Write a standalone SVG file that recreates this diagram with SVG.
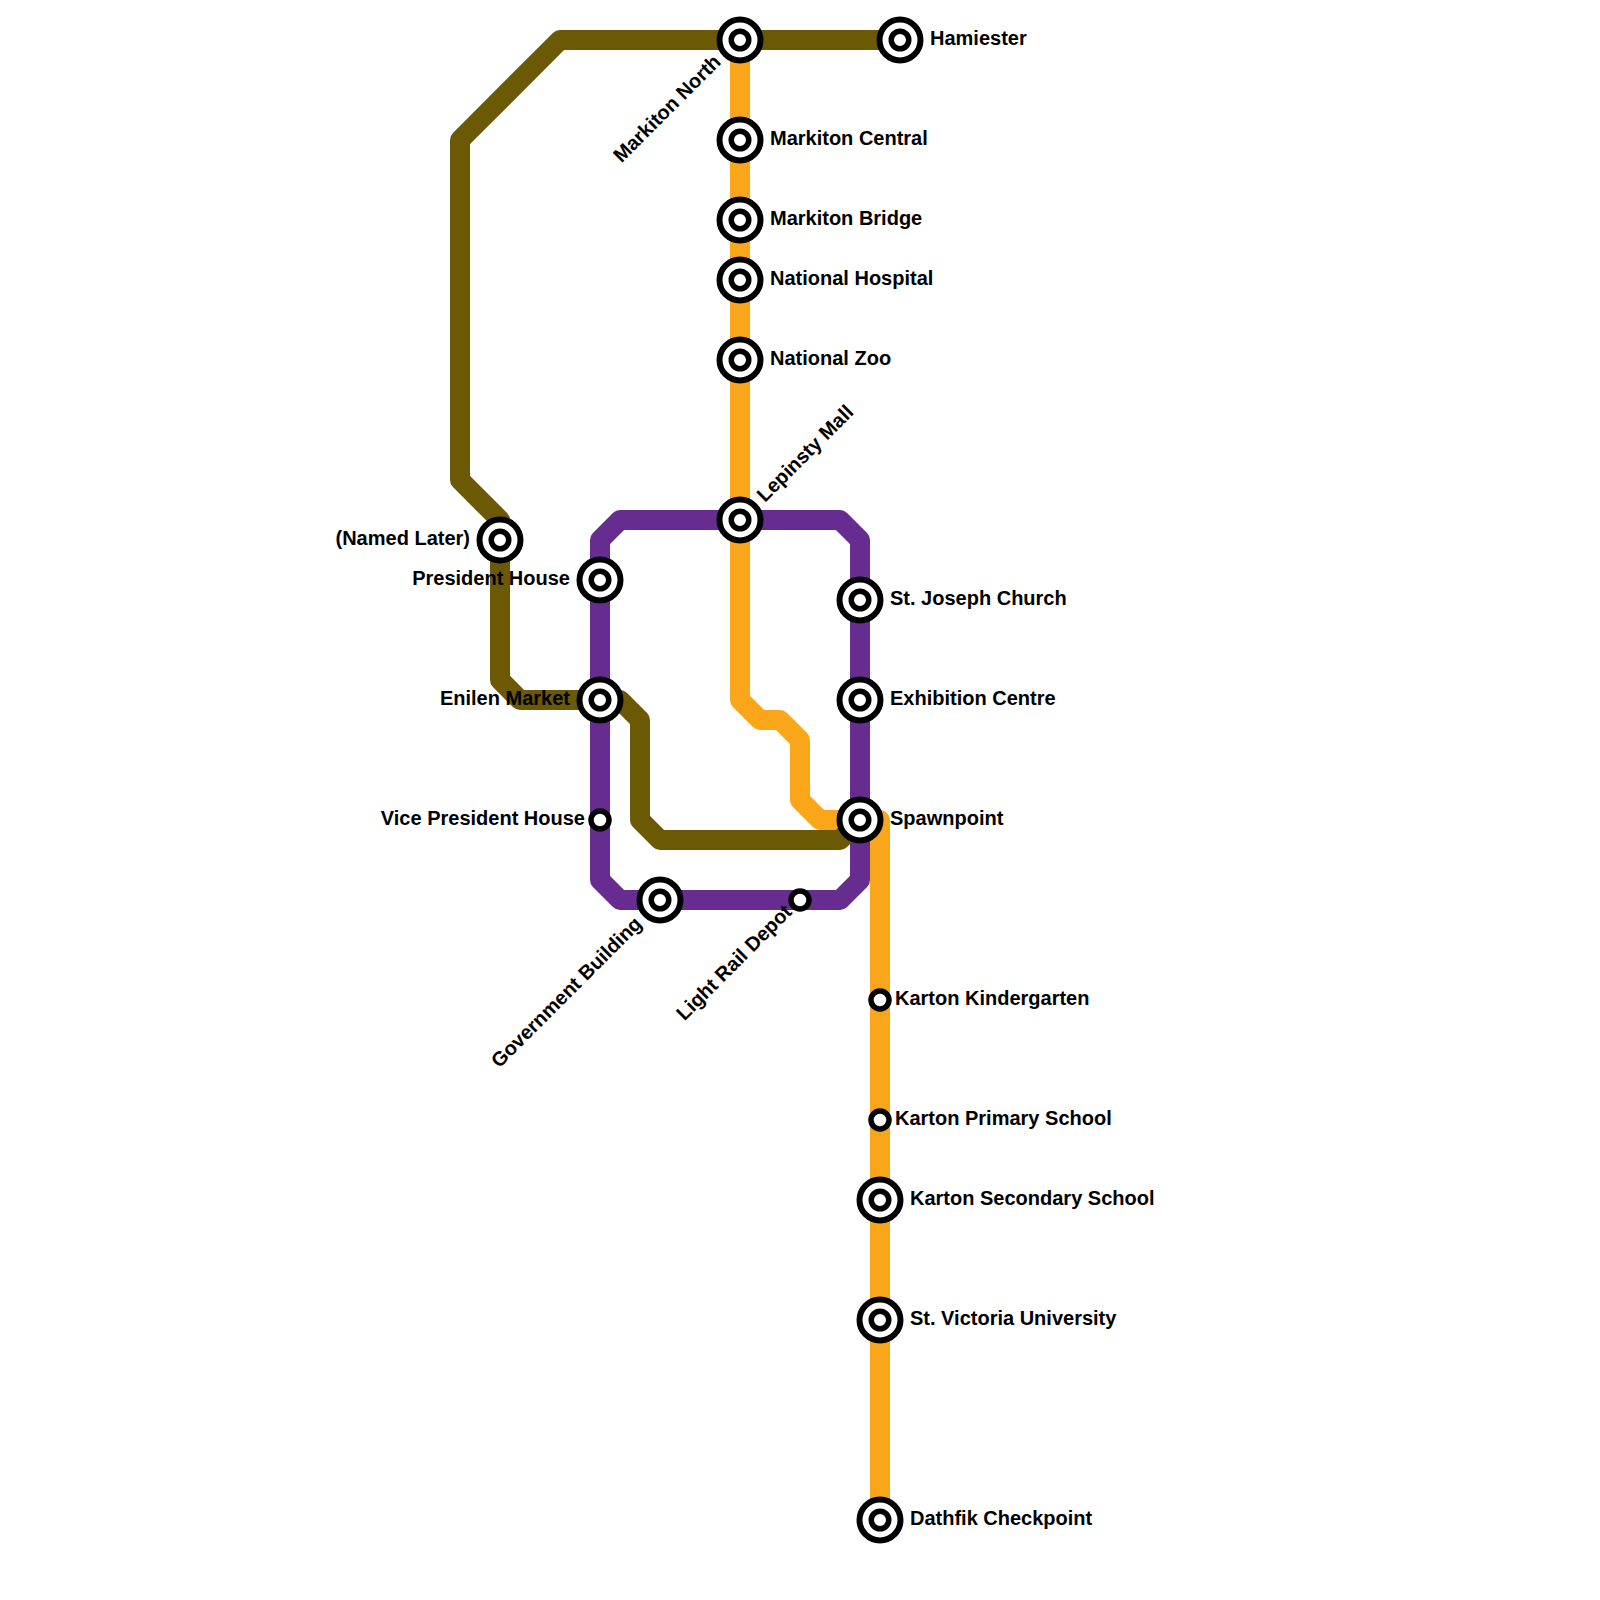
<svg xmlns="http://www.w3.org/2000/svg" width="1600" height="1600" viewBox="0 0 1600 1600">
<style>
.line{fill:none;stroke-width:20;stroke-linejoin:round;stroke-linecap:butt}
.o{stroke:#faa61a}.p{stroke:#662c90}.b{stroke:#6b5905}
.r1{fill:#fff;stroke:#000;stroke-width:6}
.r2{fill:#fff;stroke:#000;stroke-width:5.5}
.r3{fill:#fff;stroke:#000;stroke-width:5.5}
text{font-family:"Liberation Sans",Arial,sans-serif;font-weight:700;font-size:20px;fill:#000}
.e{text-anchor:end}
</style>
<defs>
<g id="big"><circle class="r1" r="20.5"/><circle class="r2" r="8.75"/></g>
<g id="small"><circle class="r3" r="9"/></g>
</defs>
<rect width="1600" height="1600" fill="#fff"/>
<g id="connectors">
<path class="line o" d="M740 40V700L760 720H780L800 740V800L820 820H880V1520"/>
<path class="line p" d="M620 520H840L860 540V880L840 900H620L600 880V540Z"/>
<path class="line b" d="M900 40H560L460 140V480L500 520V680L520 700H620L640 720V820L660 840H840L860 820"/>
</g>
<g id="markiton-north"><use href="#big" x="740" y="40"/><text transform="translate(722 63) rotate(-45)" class="e">Markiton North</text></g>
<g id="hamiester"><use href="#big" x="900" y="40"/><text x="930" y="45">Hamiester</text></g>
<g id="markiton-central"><use href="#big" x="740" y="140"/><text x="770" y="145">Markiton Central</text></g>
<g id="markiton-bridge"><use href="#big" x="740" y="220"/><text x="770" y="225">Markiton Bridge</text></g>
<g id="national-hospital"><use href="#big" x="740" y="280"/><text x="770" y="285">National Hospital</text></g>
<g id="national-zoo"><use href="#big" x="740" y="360"/><text x="770" y="365">National Zoo</text></g>
<g id="lepinsty-mall"><use href="#big" x="740" y="520"/><text transform="translate(765 503) rotate(-45)">Lepinsty Mall</text></g>
<g id="named-later"><use href="#big" x="500" y="540"/><text x="470" y="545" class="e">(Named Later)</text></g>
<g id="president-house"><use href="#big" x="600" y="580"/><text x="570" y="585" class="e">President House</text></g>
<g id="enilen-market"><use href="#big" x="600" y="700"/><text x="570" y="705" class="e">Enilen Market</text></g>
<g id="vice-president-house"><use href="#small" x="600" y="820"/><text x="585" y="825" class="e">Vice President House</text></g>
<g id="government-building"><use href="#big" x="660" y="900"/><text transform="translate(643 925) rotate(-45)" class="e">Government Building</text></g>
<g id="light-rail-depot"><use href="#small" x="800" y="900"/><text transform="translate(793 913) rotate(-45)" class="e">Light Rail Depot</text></g>
<g id="st-joseph-church"><use href="#big" x="860" y="600"/><text x="890" y="605">St. Joseph Church</text></g>
<g id="exhibition-centre"><use href="#big" x="860" y="700"/><text x="890" y="705">Exhibition Centre</text></g>
<g id="spawnpoint"><use href="#big" x="860" y="820"/><text x="890" y="825">Spawnpoint</text></g>
<g id="karton-kindergarten"><use href="#small" x="880" y="1000"/><text x="895" y="1005">Karton Kindergarten</text></g>
<g id="karton-primary-school"><use href="#small" x="880" y="1120"/><text x="895" y="1125">Karton Primary School</text></g>
<g id="karton-secondary-school"><use href="#big" x="880" y="1200"/><text x="910" y="1205">Karton Secondary School</text></g>
<g id="st-victoria-university"><use href="#big" x="880" y="1320"/><text x="910" y="1325">St. Victoria University</text></g>
<g id="dathfik-checkpoint"><use href="#big" x="880" y="1520"/><text x="910" y="1525">Dathfik Checkpoint</text></g>
</svg>
